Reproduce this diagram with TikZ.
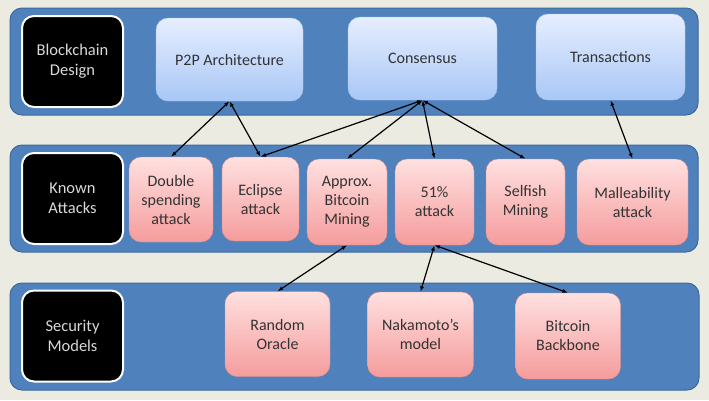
\documentclass[tikz,border=0pt]{standalone}
\usepackage{fontspec}
\setmainfont{Carlito}
\usetikzlibrary{arrows.meta}
\definecolor{bgbeige}{HTML}{ECEBE2}
\definecolor{bandblue}{HTML}{4F81BD}
\definecolor{banddark}{HTML}{3B6A9E}
\definecolor{bluetop}{HTML}{E6EEFF}
\definecolor{bluebot}{HTML}{A9C7F6}
\definecolor{redtop}{HTML}{FFE0E0}
\definecolor{redbot}{HTML}{F59C9C}
\definecolor{redline}{HTML}{DC8A8A}
\definecolor{txtgray}{HTML}{333333}
\begin{document}
\begin{tikzpicture}[x=1pt,y=-1pt,
		band/.style={fill=bandblue,draw=banddark,line width=1pt,rounded corners=12pt},
		layer/.style={fill=black,draw=white,line width=2pt,rounded corners=12pt,text=white!85!black,align=center,inner sep=0pt,minimum width=101pt,minimum height=91pt,font=\fontsize{16.5}{20}\selectfont},
		topic/.style={top color=bluetop,bottom color=bluebot,draw=bluebot,rounded corners=12pt,text=txtgray,align=center,inner sep=0pt,font=\fontsize{16}{19}\selectfont},
		issue/.style={top color=redtop,bottom color=redbot,draw=redline,rounded corners=12pt,text=txtgray,align=center,inner sep=0pt,font=\fontsize{16}{19}\selectfont},
		link/.style={{Latex[length=5.5pt,width=4pt]}-{Latex[length=5.5pt,width=4pt]},line width=1.2pt,black}]
		\fill[bgbeige] (0,0) rectangle (709,400);
		\draw[band] (10,8) rectangle (698,115);
		\draw[band] (10,145) rectangle (698,252);
		\draw[band] (10,283) rectangle (699,390);
		\node[layer] (bcd) at (72.5,61.5) {Blockchain\\Design};
		\node[layer] (ka) at (72.5,198.5) {Known\\Attacks};
		\node[layer] (sm) at (72.5,336) {Security\\Models};
		\node[topic,minimum width=147pt,minimum height=83pt] (p2p) at (229.5,59.5) {P2P Architecture};
		\node[topic,minimum width=149pt,minimum height=83pt] (cons) at (422.5,58.5) {Consensus};
		\node[topic,minimum width=149pt,minimum height=86pt] (trans) at (610.5,57) {Transactions};
		\node[issue,minimum width=84pt,minimum height=85pt] (double) at (171,199.5) {Double\\spending\\attack};
		\node[issue,minimum width=77pt,minimum height=84pt] (eclipse) at (260.5,199) {Eclipse\\attack};
		\node[issue,minimum width=80pt,minimum height=86pt] (approx) at (347,202) {Approx.\\Bitcoin\\Mining};
		\node[issue,minimum width=79pt,minimum height=86pt] (fifty) at (434.5,202) {51\%\\attack};
		\node[issue,minimum width=79pt,minimum height=86pt] (selfish) at (525.5,202) {Selfish\\Mining};
		\node[issue,minimum width=111pt,minimum height=86pt] (mall) at (632.5,202) {Malleability\\attack};
		\node[issue,minimum width=105pt,minimum height=85pt] (oracle) at (277.5,334) {Random\\Oracle};
		\node[issue,minimum width=106pt,minimum height=85pt] (naka) at (420.5,334.5) {Nakamoto's\\model};
		\node[issue,minimum width=105pt,minimum height=86pt] (backbone) at (568,336) {Bitcoin\\Backbone};
		\draw[link] (p2p.south) -- (double.north);
		\draw[link] (p2p.south) -- (eclipse.north);
		\draw[link] (cons.south) -- (eclipse.north);
		\draw[link] (cons.south) -- (approx.north);
		\draw[link] (cons.south) -- (fifty.north);
		\draw[link] (cons.south) -- (selfish.north);
		\draw[link] (trans.south) -- (mall.north);
		\draw[link] (approx.south) -- (oracle.north);
		\draw[link] (fifty.south) -- (naka.north);
		\draw[link] (fifty.south) -- (backbone.north);
\end{tikzpicture}
\end{document}
